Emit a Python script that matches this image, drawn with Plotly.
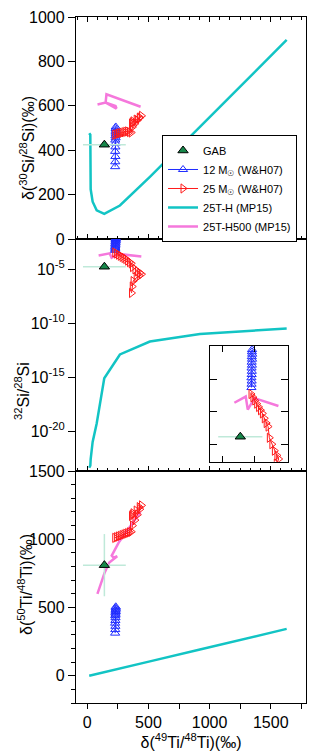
import plotly.graph_objects as go

# ---------------- data ----------------
# GAB grain
gab_x = [140]
gab_x_err = [175]
gab_si30 = [425]
gab_si32 = [1.7e-5]
gab_ti50 = [810]
gab_ti50_err = [228]

# 12 Msun (W&H07)
w12_x = [233, 232, 234, 231, 233, 230, 232, 229, 231, 230, 228, 230, 229, 228]
w12_si30 = [505, 498, 490, 482, 474, 465, 456, 446, 432, 415, 395, 372, 348, 326]
w12_si32 = [8.3e-3, 7.1e-3, 6.0e-3, 5.0e-3, 4.2e-3, 3.4e-3, 2.75e-3, 2.24e-3,
            1.78e-3, 1.41e-3, 1.12e-3, 8.9e-4, 7.1e-4, 5.6e-4]
w12_ti50 = [505, 497, 488, 480, 470, 460, 450, 440, 425, 405, 385, 362, 338, 312]

# 25 Msun (W&H07)
w25_x = [225, 240, 255, 270, 285, 300, 315, 330, 345, 360, 370, 390, 410, 430,
         444, 425, 400, 375, 368, 362]
w25_si30 = [470, 472, 475, 477, 479, 481, 483, 485, 482, 480, 505, 520, 535, 548,
            555, 545, 538, 530, 525, 520]
w25_si32 = [3.55e-4, 2.82e-4, 2.24e-4, 1.78e-4, 1.41e-4, 1.12e-4, 8.9e-5, 6.3e-5,
            4.5e-5, 3.5e-5, 1.58e-5, 1.0e-5, 6.3e-6, 4.5e-6, 3.5e-6, 2.5e-6,
            1.58e-6, 7.9e-7, 2.5e-7, 6.3e-8]
w25_ti50 = [1010, 1015, 1020, 1025, 1030, 1035, 1040, 1045, 1050, 1055, 1100, 1140,
            1180, 1220, 1248, 1235, 1210, 1190, 1180, 1170]

# 25T-H (MP15)
th_x = [16, 25, 28, 44, 77, 139, 267, 512, 921, 1630]
th_si30 = [477, 470, 224, 168, 129, 113, 151, 280, 505, 897]
th_si32 = [4.0e-24, 6.3e-24, 2.5e-23, 1.0e-21, 5.0e-20, 7.9e-16, 1.26e-13,
           2.0e-12, 1.0e-11, 3.2e-11]
th_ti50 = [0, 2, 3, 6, 13, 26, 53, 105, 192, 343]

# 25T-H500 (MP15)
th500_x_si30 = [84, 150, 231, 239, 150, 157, 436]
th500_si30 = [606, 615, 600, 588, 615, 652, 596]
th500_x_si32 = [93, 183, 199, 252, 442]
th500_si32 = [1.9e-4, 2.95e-4, 1.17e-4, 2.63e-4, 1.51e-4]
th500_x_ti50 = [83, 140, 180, 245, 215, 200, 260, 340, 435]
th500_ti50 = [600, 750, 830, 875, 865, 880, 980, 1080, 1200]

# axis tick labels
si32_tickvals = [1e-5, 1e-10, 1e-15, 1e-20]
si32_ticktext = ["10<sup>-5</sup>", "10<sup>-10</sup>", "10<sup>-15</sup>", "10<sup>-20</sup>"]
inset_tickvals_y = [1e-3, 1e-4, 1e-5]
inset_tickvals_x = [0, 250]

# ---------------- styles ----------------
BLUE = "#1f2cff"
RED = "#ff1a1a"
CYAN = "#12c4c4"
PINK = "#f578dc"
GREEN = "#17874a"
ERR = "#bfe9d9"
FONT = "Liberation Sans, Arial, sans-serif"

fig = go.Figure()

panels = [
    ("x", "y", th_si30, th500_x_si30, th500_si30, w12_si30, w25_si30, gab_si30, None),
    ("x2", "y2", th_si32, th500_x_si32, th500_si32, w12_si32, w25_si32, gab_si32, None),
    ("x3", "y3", th_ti50, th500_x_ti50, th500_ti50, w12_ti50, w25_ti50, gab_ti50, gab_ti50_err),
    ("x4", "y4", None, th500_x_si32, th500_si32, w12_si32, w25_si32, gab_si32, None),
]

for i, (xa, ya, thy, pkx, pky, by, ry, gy, gyerr) in enumerate(panels):
    first = i == 0
    if thy is not None:
        fig.add_trace(go.Scatter(
            x=th_x, y=thy, xaxis=xa, yaxis=ya, mode="lines",
            line=dict(color=CYAN, width=2.5), name="25T-H (MP15)",
            legendrank=4, showlegend=first))
    fig.add_trace(go.Scatter(
        x=pkx, y=pky, xaxis=xa, yaxis=ya, mode="lines",
        line=dict(color=PINK, width=2.5), name="25T-H500 (MP15)",
        legendrank=5, showlegend=first))
    fig.add_trace(go.Scatter(
        x=w12_x, y=by, xaxis=xa, yaxis=ya, mode="lines+markers",
        line=dict(color=BLUE, width=1),
        marker=dict(symbol="triangle-up-open", size=8, color=BLUE, line=dict(width=1)),
        name="12 M<sub>☉</sub> (W&H07)", legendrank=2, showlegend=first))
    fig.add_trace(go.Scatter(
        x=w25_x, y=ry, xaxis=xa, yaxis=ya, mode="lines+markers",
        line=dict(color=RED, width=1),
        marker=dict(symbol="triangle-right-open", size=8, color=RED, line=dict(width=1)),
        name="25 M<sub>☉</sub> (W&H07)", legendrank=3, showlegend=first))
    gab = dict(
        x=gab_x, y=gy, xaxis=xa, yaxis=ya, mode="markers",
        marker=dict(symbol="triangle-up", size=9, color=GREEN, line=dict(color="black", width=1)),
        error_x=dict(type="data", array=gab_x_err, color=ERR, thickness=1.5, width=0),
        name="GAB", legendrank=1, showlegend=first)
    if gyerr is not None:
        gab["error_y"] = dict(type="data", array=gyerr, color=ERR, thickness=1.5, width=0)
    fig.add_trace(go.Scatter(**gab))

axis_common = dict(showline=True, linecolor="black", linewidth=1.3, zeroline=False,
                   showgrid=False, tickcolor="black", tickwidth=1, automargin=False,
                   ticklabeloverflow="allow",
                   tickfont=dict(size=16, color="black", family=FONT))

XR = [-92, 1788]
D3 = [0, 0.33819]
D2 = [0.33819, 0.67638]
D1 = [0.67638, 1]

ytitle = dict(xref="paper", yref="paper", showarrow=False, textangle=-90,
              font=dict(size=16, family=FONT, color="black"),
              xanchor="center", yanchor="middle")

fig.update_layout(
    width=307, height=747,
    margin=dict(l=68, r=9, t=9, b=52, autoexpand=False),
    paper_bgcolor="white", plot_bgcolor="white",
    font=dict(family=FONT, color="black"),
    xaxis=dict(axis_common, domain=[0, 1], anchor="y", range=XR, ticks="inside",
               ticklen=5, mirror="ticks", dtick=500, tick0=0, showticklabels=False,
               minor=dict(dtick=83.333, tick0=0, ticks="inside", ticklen=3, tickcolor="black")),
    yaxis=dict(axis_common, domain=D1, anchor="x", range=[0, 1000.5], dtick=200, tick0=0,
               ticks="outside", ticklen=7, mirror="ticks"),
    xaxis2=dict(axis_common, domain=[0, 1], anchor="y2", range=XR, ticks="inside",
                ticklen=5, mirror=True, dtick=500, tick0=0, showticklabels=False,
                minor=dict(dtick=83.333, tick0=0, ticks="inside", ticklen=3, tickcolor="black")),
    yaxis2=dict(axis_common, domain=D2, anchor="x2", type="log", range=[-23.7, -2.2],
                tickmode="array", tickvals=si32_tickvals, ticktext=si32_ticktext,
                ticks="outside", ticklen=7, mirror="ticks"),
    xaxis3=dict(axis_common, domain=[0, 1], anchor="y3", range=XR, ticks="outside",
                ticklen=5, mirror=True, dtick=500, tick0=0,
                minor=dict(dtick=250, tick0=0, ticks="outside", ticklen=5, tickcolor="black"),
                title=dict(text="δ(<sup>49</sup>Ti/<sup>48</sup>Ti)(‰)",
                           font=dict(size=16), standoff=3)),
    yaxis3=dict(axis_common, domain=D3, anchor="x3", range=[-200, 1500], dtick=500, tick0=0,
                ticks="outside", ticklen=7, mirror="ticks",
                minor=dict(dtick=100, tick0=0, ticks="outside", ticklen=4, tickcolor="black")),
    xaxis4=dict(axis_common, domain=[0.5826, 0.9230], anchor="y4", range=[-100, 520],
                tickmode="array", tickvals=inset_tickvals_x, ticks="inside", ticklen=6,
                mirror="ticks", showticklabels=False),
    yaxis4=dict(axis_common, domain=[0.35175, 0.52041], anchor="x4", type="log",
                range=[-5.54, -1.97], tickmode="array", tickvals=inset_tickvals_y,
                ticks="inside", ticklen=7, mirror="ticks", showticklabels=False),
    annotations=[
        dict(ytitle, text="δ(<sup>30</sup>Si/<sup>28</sup>Si)(‰)", x=-0.213, y=0.809),
        dict(ytitle, text="<sup>32</sup>Si/<sup>28</sup>Si", x=-0.235, y=0.4548),
        dict(ytitle, text="δ(<sup>50</sup>Ti/<sup>48</sup>Ti)(‰)", x=-0.222, y=0.1735),
    ],
    legend=dict(x=0.961, y=0.828, xanchor="right", yanchor="top",
                bgcolor="white", bordercolor="black", borderwidth=1,
                font=dict(size=11, family=FONT), tracegroupgap=0,
                itemwidth=30),
    showlegend=True,
)

fig.write_html("out.html")
